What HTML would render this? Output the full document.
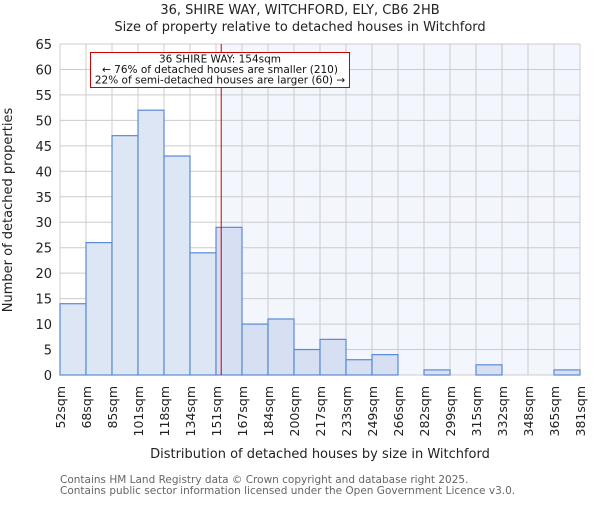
<!DOCTYPE html>
<html><head><meta charset="utf-8"><style>body{margin:0;background:#fff}svg{font-family:"DejaVu Sans","Liberation Sans",sans-serif}</style></head>
<body>
<svg width="600" height="500">
<text x="300" y="14" text-anchor="middle" font-size="13" fill="#222">36, SHIRE WAY, WITCHFORD, ELY, CB6 2HB</text>
<text x="300" y="31" text-anchor="middle" font-size="13" fill="#222">Size of property relative to detached houses in Witchford</text>
<g id="plot"></g>
<text transform="translate(12,210) rotate(-90)" text-anchor="middle" font-size="13" fill="#222">Number of detached properties</text>
<text x="320" y="458" text-anchor="middle" font-size="13" fill="#222">Distribution of detached houses by size in Witchford</text>
<text x="60" y="483" font-size="10.5" fill="#666">Contains HM Land Registry data © Crown copyright and database right 2025.</text>
<text x="60" y="494" font-size="10.5" fill="#666">Contains public sector information licensed under the Open Government Licence v3.0.</text>
</svg>
<script>
const binLabels=["52sqm","68sqm","85sqm","101sqm","118sqm","134sqm","151sqm","167sqm","184sqm","200sqm","217sqm","233sqm","249sqm","266sqm","282sqm","299sqm","315sqm","332sqm","348sqm","365sqm","381sqm"];
const counts=[14,26,47,52,43,24,29,10,11,5,7,3,4,0,1,0,2,0,0,1];
const yTicks=[0,5,10,15,20,25,30,35,40,45,50,55,60,65];
const markerIndex=6.2;
const X0=60,X1=580,Y0=375,Y1=44,YMAX=65;
const n=counts.length,bw=(X1-X0)/n;
const xs=i=>X0+i*bw, ys=v=>Y0-(v/YMAX)*(Y0-Y1);
const g=document.getElementById('plot');const NS="http://www.w3.org/2000/svg";
function mk(t,a){const e=document.createElementNS(NS,t);for(const k in a)e.setAttribute(k,a[k]);g.appendChild(e);return e;}
const mx=xs(markerIndex);
let e=mk('rect',{x:mx,y:Y1,width:X1-mx,height:Y0-Y1,fill:'#f3f6fd'});


yTicks.forEach(t=>{let l=mk('line',{x1:X0,x2:X1,y1:ys(t),y2:ys(t),stroke:'#ccc'});


let tx=mk('text',{x:X0-8,y:ys(t)+5,'text-anchor':'end','font-size':13,fill:'#222'});tx.textContent=t;

});
binLabels.forEach((b,i)=>{let l=mk('line',{x1:xs(i),x2:xs(i),y1:Y1,y2:Y0,stroke:'#ccc'});


let tx=mk('text',{transform:`translate(${xs(i)+5},386) rotate(-90)`,'text-anchor':'end','font-size':12.5,fill:'#222'});tx.textContent=b;

});
counts.forEach((c,i)=>{if(!c)return;let r=mk('rect',{x:xs(i),y:ys(c),width:bw,height:Y0-ys(c),fill:i>=6?'#d6e0f2':'#dde6f4',stroke:'#5a8ad6','stroke-width':1.2});

});
e=mk('line',{x1:mx,x2:mx,y1:Y1,y2:Y0,stroke:'#c00','stroke-width':1});


e=mk('rect',{x:90.5,y:52.5,width:259,height:35,fill:'#fff',stroke:'#c00'});


["36 SHIRE WAY: 154sqm","← 76% of detached houses are smaller (210)","22% of semi-detached houses are larger (60) →"].forEach((s,k)=>{let t=mk('text',{x:220,y:62.5+k*10.5,'text-anchor':'middle','font-size':10.5,fill:'#111'});t.textContent=s;

});
</script>
</body></html>
